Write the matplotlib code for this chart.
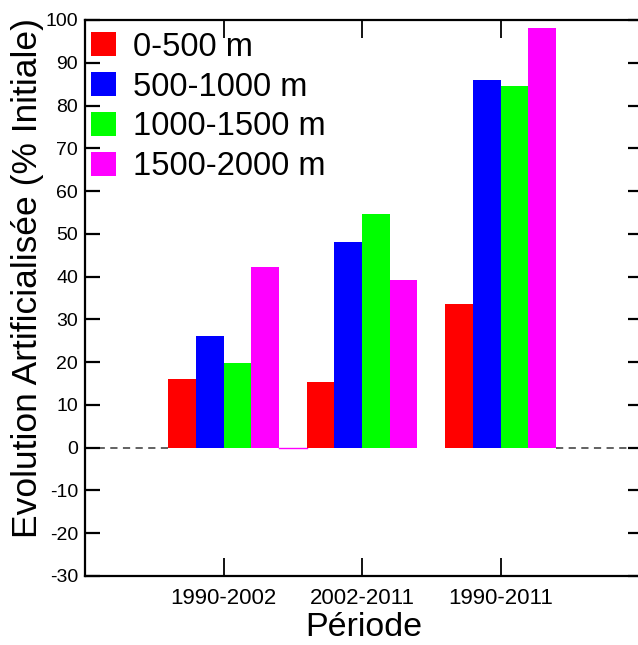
#!/usr/bin/env python3
# Evolution of artificialised area per altitude band and period
import numpy as np
import matplotlib
matplotlib.use('Agg')
import matplotlib.pyplot as plt

plt.rcParams['font.family'] = ['Liberation Sans', 'DejaVu Sans']
plt.rcParams['axes.unicode_minus'] = False

# Data
periods = ['1990-2002', '2002-2011', '1990-2011']
bands = ['0-500 m', '500-1000 m', '1000-1500 m', '1500-2000 m']
v_0_500 = [16.0, 15.3, 33.6]
v_500_1000 = [26.0, 48.0, 86.0]
v_1000_1500 = [19.7, 54.7, 84.6]
v_1500_2000 = [42.2, 39.3, 98.2]
colors = ['#ff0000', '#0000ff', '#00ff00', '#ff00ff']

series = [v_0_500, v_500_1000, v_1000_1500, v_1500_2000]

fig = plt.figure(figsize=(6.38, 6.45), dpi=100)
# right spine falls just outside the canvas, as in the original
ax = fig.add_axes([85/638, 69/645, 558/638, 556/645])

x = np.arange(1, len(periods) + 1)
w = 0.2
for i, (vals, col, lab) in enumerate(zip(series, colors, bands)):
    ax.bar(x + (i - 1.5) * w, vals, w, color=col, label=lab, zorder=2)

# dashed zero line outside the groups
ax.plot([0, x[0] - 2 * w], [0, 0], ls=(0, (4, 3)), color='#555555', lw=1.3, zorder=1)
ax.plot([x[-1] + 2 * w, 4.2], [0, 0], ls=(0, (4, 3)), color='#555555', lw=1.3, zorder=1)
ax.plot([x[0] + 2 * w, x[1] - 2 * w], [0, 0], color='#ff00ff', lw=1.0, zorder=1)

ax.set_xlim(0, 558/138.5)
ax.set_ylim(-30, 100)
ax.set_yticks(np.arange(-30, 101, 10))
ax.set_xticks(x)
ax.set_xticklabels(periods)

for s in ax.spines.values():
    s.set_linewidth(1.6)
ax.spines['right'].set_visible(False)
ax.tick_params(axis='y', direction='in', length=11, width=1.6, labelsize=14,
               pad=5, right=True)
ax.tick_params(axis='x', direction='in', length=13, width=1.3, labelsize=16,
               pad=9, top=True)

fig.text(0.043, 1 - 278/645, 'Evolution Artificialisée (% Initiale)',
         rotation=90, ha='center', va='center', fontsize=25.5)
ax.set_xlabel('Période', fontsize=24.5, labelpad=2)

leg = ax.legend(loc='upper left', bbox_to_anchor=(-0.03, 1.02), frameon=False,
                fontsize=23.5, handlelength=0.77, handleheight=0.74,
                labelspacing=0.27, handletextpad=0.5, borderaxespad=0.3)

fig.savefig('out.png', dpi=100)
